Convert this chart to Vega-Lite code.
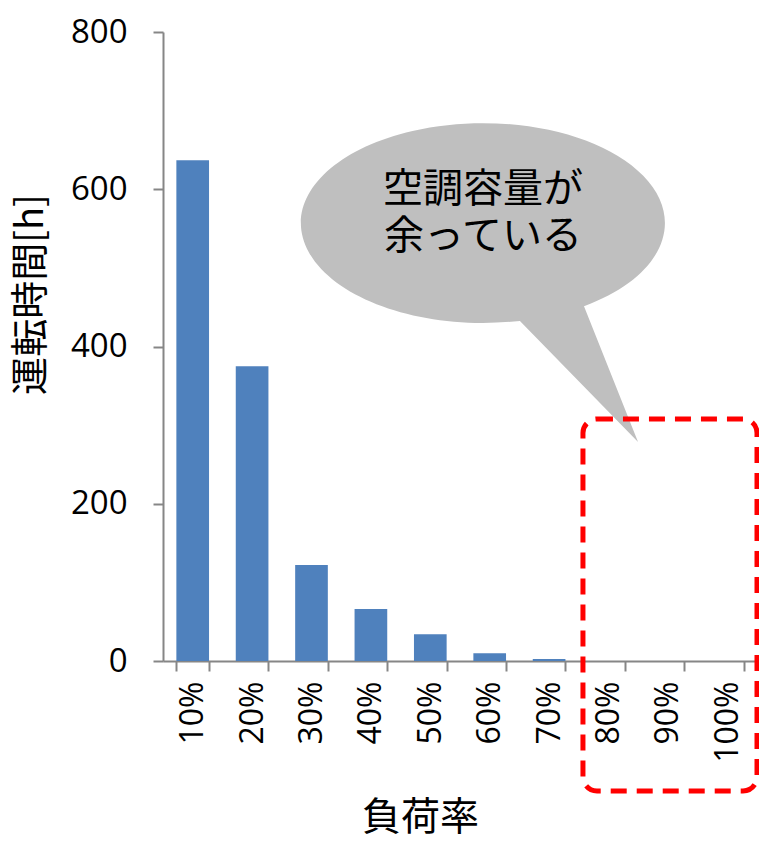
{
  "$schema": "https://vega.github.io/schema/vega-lite/v6.json",
  "width": 594,
  "height": 629,
  "autosize": {"type": "none"},
  "padding": {"left": 163, "top": 32, "right": 2, "bottom": 181},
  "background": "white",
  "config": {"view": {"stroke": null}},
  "resolve": {"scale": {"x": "independent"}},
  "layer": [
    {
      "data": {"values": [
        {"load": "10%", "hours": 637},
        {"load": "20%", "hours": 375},
        {"load": "30%", "hours": 122},
        {"load": "40%", "hours": 66},
        {"load": "50%", "hours": 34},
        {"load": "60%", "hours": 10},
        {"load": "70%", "hours": 2.5},
        {"load": "80%", "hours": 0},
        {"load": "90%", "hours": 0},
        {"load": "100%", "hours": 0}
      ]},
      "mark": {"type": "bar", "color": "#4f81bd"},
      "encoding": {
        "x": {
          "field": "load", "type": "nominal", "sort": null,
          "scale": {"paddingInner": 0.45, "paddingOuter": 0.225},
          "axis": {
            "title": "負荷率",
            "titleFont": "Noto Sans CJK JP", "titleFontSize": 39, "titleFontWeight": "normal", "titleColor": "#000000",
            "titleX": 257, "titleY": 156, "titleBaseline": "middle", "titleAlign": "center",
            "labelAngle": -90, "labelFont": "Open Sans", "labelFontSize": 32, "labelColor": "#000000", "labelPadding": 10,
            "tickBand": "extent", "tickSize": 10, "tickColor": "#868686", "domainColor": "#868686", "domainWidth": 2, "tickWidth": 2,
            "grid": false
          }
        },
        "y": {
          "field": "hours", "type": "quantitative",
          "scale": {"domain": [0, 800], "nice": false},
          "axis": {
            "title": "運転時間[h]", "values": [0, 200, 400, 600, 800],
            "titleFont": "Noto Sans CJK JP", "titleFontSize": 38, "titleFontWeight": "normal", "titleColor": "#000000",
            "titleX": -132, "titleY": 262, "titleAngle": -90, "titleBaseline": "middle", "titleAlign": "center",
            "labelFont": "Open Sans", "labelFontSize": 33, "labelColor": "#000000", "labelPadding": 26,
            "tickSize": 10, "tickColor": "#868686", "domainColor": "#868686", "domainWidth": 2, "tickWidth": 2,
            "grid": false
          }
        }
      }
    },
    {
      "data": {"values": [{}]},
      "mark": {"type": "point", "filled": true, "fill": "#bfbfbf", "opacity": 1, "strokeWidth": 0,
        "shape": "M 0.555 0.457 A 1 0.549 0 1 0 0.203 0.538 L 0.852 1.203 Z"},
      "encoding": {
        "x": {"datum": 5.387, "type": "quantitative", "scale": {"domain": [0, 10], "nice": false, "zero": false}, "axis": null},
        "y": {"datum": 557.1, "type": "quantitative"},
        "size": {"value": 132496}
      }
    },
    {
      "data": {"values": [{}]},
      "mark": {"type": "text", "font": "Noto Sans CJK JP", "fontSize": 40, "fontWeight": "normal", "color": "#000000", "align": "center", "baseline": "middle"},
      "encoding": {
        "x": {"datum": 5.387, "type": "quantitative", "scale": {"domain": [0, 10], "nice": false, "zero": false}, "axis": null},
        "y": {"datum": 599, "type": "quantitative"},
        "text": {"value": "空調容量が"}
      }
    },
    {
      "data": {"values": [{}]},
      "mark": {"type": "text", "font": "Noto Sans CJK JP", "fontSize": 40, "fontWeight": "normal", "color": "#000000", "align": "center", "baseline": "middle"},
      "encoding": {
        "x": {"datum": 5.387, "type": "quantitative", "scale": {"domain": [0, 10], "nice": false, "zero": false}, "axis": null},
        "y": {"datum": 539.3, "type": "quantitative"},
        "text": {"value": "余っている"}
      }
    },
    {
      "data": {"values": [{}]},
      "mark": {"type": "rect", "filled": false, "fill": null, "stroke": "#ff0000", "strokeWidth": 5, "strokeDash": [16, 10], "cornerRadius": 14},
      "encoding": {
        "x": {"datum": 7.07, "type": "quantitative", "scale": {"domain": [0, 10], "nice": false, "zero": false}, "axis": null},
        "x2": {"datum": 10},
        "y": {"datum": 307.8, "type": "quantitative"},
        "y2": {"datum": -165.3}
      }
    }
  ]
}
